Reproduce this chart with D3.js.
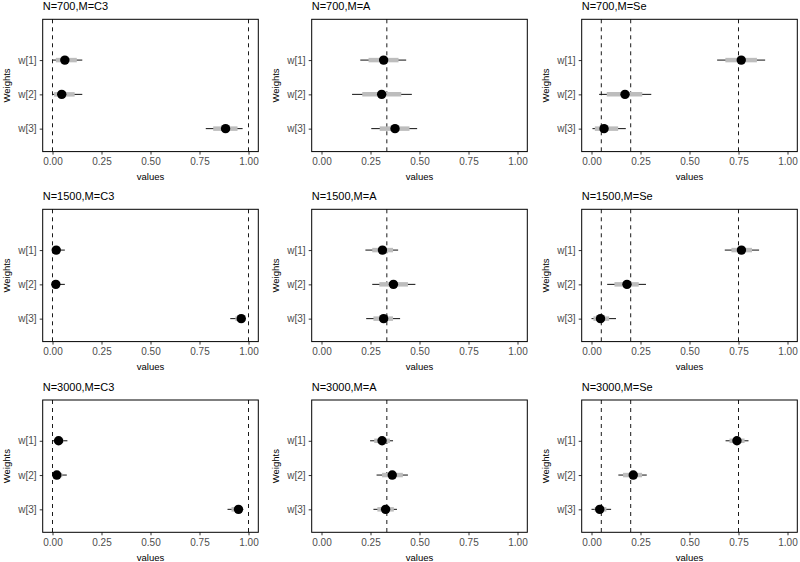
<!DOCTYPE html>
<html>
<head>
<meta charset="utf-8">
<script src="https://cdn.jsdelivr.net/npm/d3@7"></script>
<style>
  html, body { margin: 0; padding: 0; background: #fff; }
  svg { display: block; font-family: "Liberation Sans", Arial, sans-serif; }
</style>
</head>
<body>
<svg id="chart" width="800" height="562"></svg>
<script>
// ---- data ----
const sampleSizes = ["700", "1500", "3000"];
const models = ["C3", "A", "Se"];
const weights = ["w[1]", "w[2]", "w[3]"];
const xTicks = [0, 0.25, 0.5, 0.75, 1];

const trueC3 = [0, 1];
const trueA = [1 / 3];
const trueSe = [0.05, 0.2, 0.75];

// panels in row-major order: (700,C3),(700,A),(700,Se),(1500,C3),...
const pointEst = [
  [0.063, 0.047, 0.883], [0.317, 0.307, 0.375], [0.764, 0.171, 0.064],
  [0.019, 0.017, 0.963], [0.311, 0.367, 0.317], [0.765, 0.181, 0.046],
  [0.031, 0.022, 0.949], [0.309, 0.361, 0.327], [0.742, 0.213, 0.042]
];
const outerLo = [
  [0.0, 0.0, 0.782], [0.198, 0.156, 0.254], [0.641, 0.039, 0.005],
  [0.0, 0.0, 0.907], [0.224, 0.259, 0.228], [0.680, 0.080, 0.0],
  [0.0, 0.0, 0.893], [0.248, 0.281, 0.265], [0.684, 0.137, 0.0]
];
const outerHi = [
  [0.152, 0.152, 0.970], [0.432, 0.461, 0.488], [0.886, 0.305, 0.175],
  [0.063, 0.063, 0.985], [0.391, 0.479, 0.401], [0.855, 0.278, 0.125],
  [0.076, 0.073, 0.973], [0.365, 0.441, 0.385], [0.801, 0.282, 0.100]
];
const innerLo = [
  [0.017, 0.008, 0.820], [0.240, 0.208, 0.297], [0.683, 0.078, 0.017],
  [0.004, 0.003, 0.933], [0.259, 0.295, 0.265], [0.714, 0.117, 0.010],
  [0.010, 0.005, 0.913], [0.269, 0.309, 0.285], [0.704, 0.161, 0.016]
];
const innerHi = [
  [0.124, 0.113, 0.944], [0.393, 0.407, 0.449], [0.844, 0.259, 0.136],
  [0.040, 0.038, 0.973], [0.365, 0.441, 0.365], [0.819, 0.241, 0.090],
  [0.055, 0.050, 0.963], [0.349, 0.415, 0.369], [0.781, 0.258, 0.076]
];

const trueByModel = { C3: trueC3, A: trueA, Se: trueSe };

// ---- layout ----
const panelLefts = [42.7, 311.7, 581.7];
const panelTops = [19.3, 209.3, 400];
const panelW = 215.6, panelH = 132.3;

const svg = d3.select("#chart");

const x = d3.scaleLinear().domain([-0.05, 1.05]).range([0, panelW]);
// weights placed at 3,2,1 on a continuous scale (w[1] top)
const y = d3.scaleLinear().domain([4.19, 0.33]).range([0, panelH]);
const yPos = i => y(3 - i);

sampleSizes.forEach((n, r) => {
  models.forEach((m, c) => {
    const idx = r * 3 + c;
    const g = svg.append("g")
      .attr("transform", `translate(${panelLefts[c]},${panelTops[r]})`);

    // title
    g.append("text")
      .attr("x", 0).attr("y", -9.3)
      .attr("font-size", 11).attr("fill", "#000")
      .text(`N=${n},M=${m}`);

    // reference dashed lines
    g.selectAll("line.ref").data(trueByModel[m]).enter().append("line")
      .attr("x1", d => x(d)).attr("x2", d => x(d))
      .attr("y1", 0).attr("y2", panelH)
      .attr("stroke", "#1a1a1a").attr("stroke-width", 1)
      .attr("stroke-dasharray", "4,4");

    const rows = weights.map((w, i) => ({
      w, i,
      p: pointEst[idx][i], lo: outerLo[idx][i], hi: outerHi[idx][i],
      ilo: innerLo[idx][i], ihi: innerHi[idx][i]
    }));

    // outer thin interval
    g.selectAll("line.outer").data(rows).enter().append("line")
      .attr("x1", d => x(d.lo)).attr("x2", d => x(d.hi))
      .attr("y1", d => yPos(d.i)).attr("y2", d => yPos(d.i))
      .attr("stroke", "#111").attr("stroke-width", 1);

    // inner thick interval
    g.selectAll("line.inner").data(rows).enter().append("line")
      .attr("x1", d => x(d.ilo)).attr("x2", d => x(d.ihi))
      .attr("y1", d => yPos(d.i)).attr("y2", d => yPos(d.i))
      .attr("stroke", "#bdbdbd").attr("stroke-width", 4.5);

    // points
    g.selectAll("circle").data(rows).enter().append("circle")
      .attr("cx", d => x(d.p)).attr("cy", d => yPos(d.i))
      .attr("r", 4.7).attr("fill", "#000");

    // x axis
    const xa = g.append("g").attr("transform", `translate(0,${panelH})`)
      .attr("font-size", 9.3).attr("font-family", "Liberation Sans, Arial, sans-serif")
      .call(d3.axisBottom(x).tickValues(xTicks).tickFormat(d3.format(".2f")).tickSize(3).tickPadding(3.5));
    xa.select(".domain").remove();
    xa.selectAll(".tick line").attr("stroke", "#333");
    xa.selectAll(".tick text").attr("fill", "#4d4d4d");

    // y axis
    const ya = g.append("g")
      .attr("font-size", 9.3).attr("font-family", "Liberation Sans, Arial, sans-serif")
      .call(d3.axisLeft(d3.scaleOrdinal().domain(weights).range(weights.map((w, i) => yPos(i))))
        .tickSize(3).tickPadding(3.2));
    ya.select(".domain").remove();
    ya.selectAll(".tick line").attr("stroke", "#333");
    ya.selectAll(".tick text").attr("fill", "#4d4d4d");

    // panel border
    g.append("rect").attr("x", 0).attr("y", 0)
      .attr("width", panelW).attr("height", panelH)
      .attr("fill", "none").attr("stroke", "#000").attr("stroke-width", 1);

    // axis titles
    g.append("text")
      .attr("x", panelW / 2).attr("y", panelH + 28.5)
      .attr("text-anchor", "middle").attr("font-size", 9.5).attr("fill", "#000")
      .text("values");
    g.append("text")
      .attr("transform", `translate(-32.7,${panelH / 2}) rotate(-90)`)
      .attr("text-anchor", "middle").attr("font-size", 9.5).attr("fill", "#000")
      .text("Weights");
  });
});
</script>
</body>
</html>
